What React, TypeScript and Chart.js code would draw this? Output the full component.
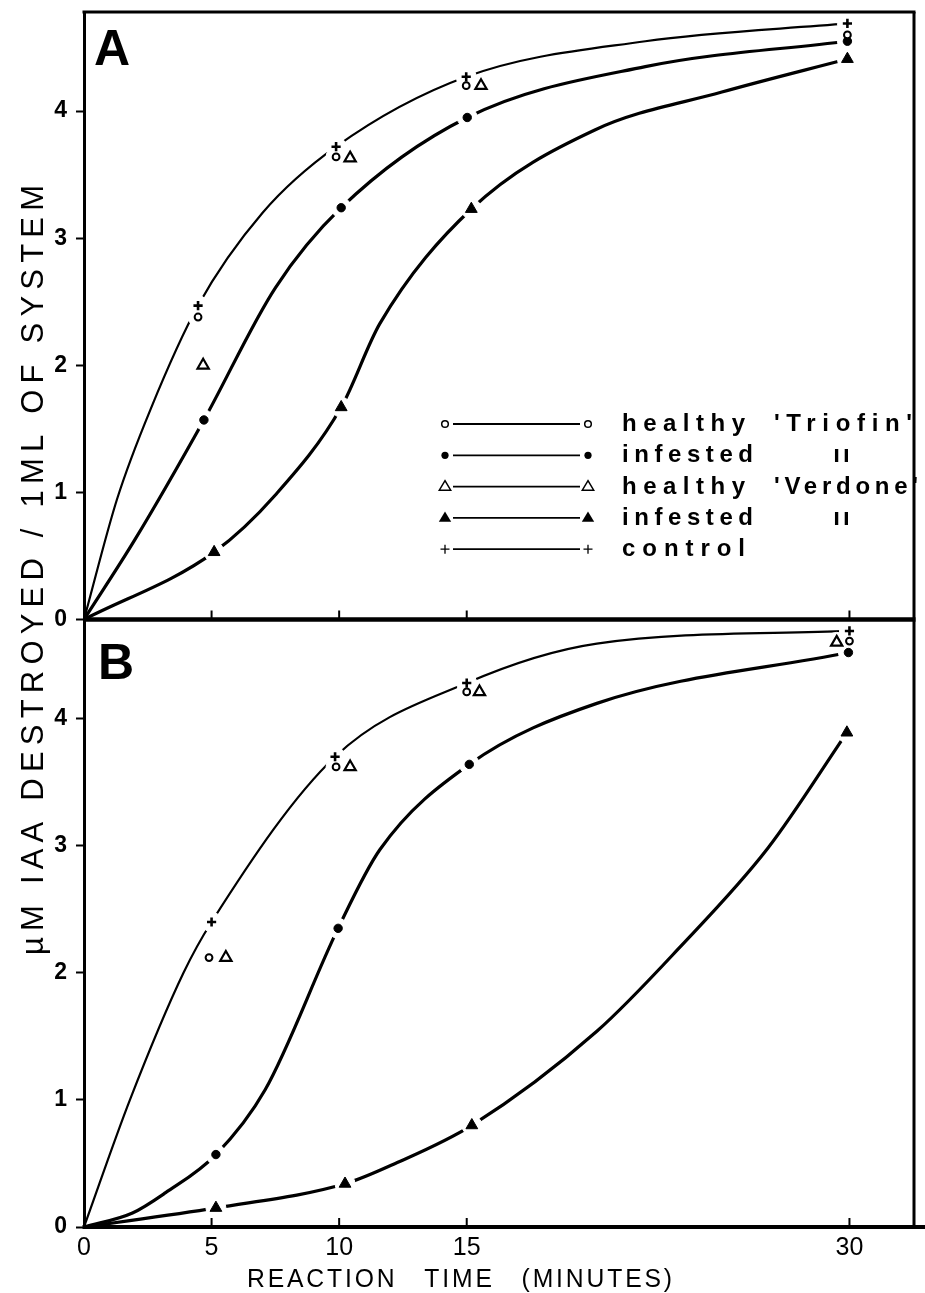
import React, { useEffect, useRef } from "react";
import { Chart, registerables } from "chart.js";

Chart.register(...registerables);

const W = 925;
const H = 1293;

const FONT = "'Liberation Sans', Arial, Helvetica, sans-serif";

// ---------- axes ----------
const X_TICKS = [0, 5, 10, 15, 30];
const Y_TICKS = [0, 1, 2, 3, 4];
const X_MAX = 32.53;
const Y_MAX = 4.78;

const X_TITLE = "REACTION TIME (MINUTES)";
const Y_TITLE = "µM IAA DESTROYED / 1ML OF SYSTEM";
const PANEL_LABELS = ["A", "B"];

// ---------- legend ----------
const LEGEND_MARKERS = ["openCircle", "dot", "openTri", "filledTri", "plus"];
const LEGEND_STATES = ["healthy", "infested", "healthy", "infested", "control"];
const LEGEND_VARIETIES = ["'Triofin'", "ıı", "'Verdone'", "ıı", ""];

// ---------- Panel A : plotted points (minutes, µM) ----------
const A_CONTROL_T = [4.47, 9.88, 14.98, 29.92];
const A_CONTROL_V = [2.47, 3.72, 4.27, 4.69];
const A_HEALTHY_TRIOFIN_T = [4.47, 9.88, 14.98, 29.92];
const A_HEALTHY_TRIOFIN_V = [2.38, 3.64, 4.2, 4.6];
const A_HEALTHY_VERDONE_T = [4.67, 10.43, 15.56];
const A_HEALTHY_VERDONE_V = [2.0, 3.63, 4.2];
const A_INFESTED_TRIOFIN_T = [4.7, 10.08, 15.02, 29.92];
const A_INFESTED_TRIOFIN_V = [1.57, 3.24, 3.95, 4.55];
const A_INFESTED_VERDONE_T = [5.1, 10.08, 15.18, 29.92];
const A_INFESTED_VERDONE_V = [0.53, 1.67, 3.23, 4.41];

// Panel A : hand-drawn curves
const A_UPPER_T = [0, 1.3, 2.6, 4.47, 7, 9.88, 14.98, 22, 29.92];
const A_UPPER_V = [0, 0.95, 1.65, 2.47, 3.2, 3.72, 4.27, 4.55, 4.69];
const A_MIDDLE_T = [0, 2, 4.7, 7.5, 10.08, 15.02, 22, 29.92];
const A_MIDDLE_V = [0, 0.63, 1.57, 2.61, 3.24, 3.95, 4.35, 4.55];
const A_LOWER_T = [0, 5.1, 7.5, 10.08, 11.6, 15.18, 20, 25, 29.92];
const A_LOWER_V = [0, 0.53, 0.98, 1.67, 2.33, 3.23, 3.85, 4.15, 4.41];

// ---------- Panel B : plotted points ----------
const B_CONTROL_T = [5.0, 9.84, 15.0, 30.0];
const B_CONTROL_V = [2.4, 3.7, 4.28, 4.69];
const B_HEALTHY_TRIOFIN_T = [4.9, 9.88, 15.0, 30.0];
const B_HEALTHY_TRIOFIN_V = [2.12, 3.62, 4.21, 4.61];
const B_HEALTHY_VERDONE_T = [5.56, 10.43, 15.5, 29.5];
const B_HEALTHY_VERDONE_V = [2.12, 3.62, 4.21, 4.6];
const B_INFESTED_TRIOFIN_T = [5.17, 9.96, 15.1, 29.96];
const B_INFESTED_TRIOFIN_V = [0.57, 2.35, 3.64, 4.52];
const B_INFESTED_VERDONE_T = [5.17, 10.23, 15.2, 29.9];
const B_INFESTED_VERDONE_V = [0.15, 0.34, 0.8, 3.89];

// Panel B : hand-drawn curves
const B_UPPER_T = [0, 1.8, 3.9, 5.0, 9.84, 15.0, 20.1, 30.0];
const B_UPPER_V = [0, 1.0, 2.0, 2.4, 3.7, 4.28, 4.59, 4.69];
const B_MIDDLE_T = [0, 1.9, 3.2, 5.17, 7.1, 9.96, 11.6, 15.1, 20.1, 29.96];
const B_MIDDLE_V = [0, 0.11, 0.27, 0.57, 1.08, 2.35, 2.97, 3.64, 4.12, 4.52];
const B_LOWER_T = [0, 5.17, 10.23, 12.2, 15.2, 20.1, 23.3, 26.8, 29.9];
const B_LOWER_V = [0, 0.15, 0.34, 0.5, 0.8, 1.54, 2.19, 2.98, 3.89];

// ---------- helpers ----------
type Pt = { x: number; y: number };
const series = (t: number[], v: number[]): Pt[] => t.map((x, i) => ({ x, y: v[i] }));

const MARKER_OPTS: Record<string, any> = {
  openCircle: { pointStyle: "circle", pointRadius: 3.4, pointBackgroundColor: "#fff", pointBorderColor: "#000", pointBorderWidth: 2 },
  dot: { pointStyle: "circle", pointRadius: 4.2, pointBackgroundColor: "#000", pointBorderColor: "#000", pointBorderWidth: 1 },
  openTri: { pointStyle: "triangle", pointRadius: 6.5, pointBackgroundColor: "#fff", pointBorderColor: "#000", pointBorderWidth: 2.2 },
  filledTri: { pointStyle: "triangle", pointRadius: 6.8, pointBackgroundColor: "#000", pointBorderColor: "#000", pointBorderWidth: 1 },
  plus: { pointStyle: "cross", pointRadius: 4.6, pointBackgroundColor: "#000", pointBorderColor: "#000", pointBorderWidth: 2.6 },
};

function curveDs(t: number[], v: number[], axis: string, width: number) {
  return {
    data: series(t, v),
    yAxisID: axis,
    borderColor: "#000",
    borderWidth: width,
    pointRadius: 0,
    pointHoverRadius: 0,
    cubicInterpolationMode: "monotone",
    fill: false,
    order: 3,
  };
}

function haloDs(data: Pt[], axis: string) {
  return {
    data,
    yAxisID: axis,
    showLine: false,
    pointStyle: "circle",
    pointRadius: 10,
    pointHoverRadius: 10,
    pointBackgroundColor: "#ffffff",
    pointBorderColor: "#ffffff",
    pointBorderWidth: 1,
    order: 2,
  };
}

function markerDs(t: number[], v: number[], axis: string, key: string) {
  const o = MARKER_OPTS[key];
  return {
    data: series(t, v),
    yAxisID: axis,
    showLine: false,
    ...o,
    pointHoverRadius: o.pointRadius,
    order: 1,
  };
}

function fitText(ctx: CanvasRenderingContext2D, text: string, x: number, y: number, width: number) {
  (ctx as any).letterSpacing = "0px";
  const w0 = ctx.measureText(text).width;
  const n = Array.from(text).length;
  const ls = n > 1 ? (width - w0) / (n - 1) : 0;
  (ctx as any).letterSpacing = `${ls}px`;
  ctx.textAlign = "left";
  ctx.fillText(text, x, y);
  (ctx as any).letterSpacing = "0px";
}

// draws the words of a title spread over a given length, each word with a fixed tracking
function spreadWords(ctx: CanvasRenderingContext2D, text: string, x: number, y: number, total: number, tracking: number, condense: number) {
  const words = text.split(" ");
  (ctx as any).letterSpacing = `${tracking}px`;
  const widths = words.map((w) => (ctx.measureText(w).width - tracking) * condense);
  const sum = widths.reduce((a, b) => a + b, 0);
  const gap = words.length > 1 ? (total - sum) / (words.length - 1) : 0;
  let cx = x;
  ctx.textAlign = "left";
  words.forEach((w, i) => {
    ctx.save();
    ctx.translate(cx, y);
    ctx.scale(condense, 1);
    ctx.fillText(w, 0, 0);
    ctx.restore();
    cx += widths[i] + gap;
  });
  (ctx as any).letterSpacing = "0px";
}

function triPath(ctx: CanvasRenderingContext2D, x: number, y: number, r: number) {
  ctx.beginPath();
  ctx.moveTo(x, y - r);
  ctx.lineTo(x + r * 0.95, y + r * 0.6);
  ctx.lineTo(x - r * 0.95, y + r * 0.6);
  ctx.closePath();
}

function drawMarker(ctx: CanvasRenderingContext2D, key: string, x: number, y: number) {
  ctx.save();
  ctx.strokeStyle = "#000";
  ctx.fillStyle = "#000";
  if (key === "openCircle") {
    ctx.lineWidth = 1.5;
    ctx.beginPath();
    ctx.arc(x, y, 3.3, 0, Math.PI * 2);
    ctx.fillStyle = "#fff";
    ctx.fill();
    ctx.stroke();
  } else if (key === "dot") {
    ctx.beginPath();
    ctx.arc(x, y, 3.6, 0, Math.PI * 2);
    ctx.fill();
  } else if (key === "openTri") {
    ctx.lineWidth = 1.5;
    triPath(ctx, x, y, 6);
    ctx.stroke();
  } else if (key === "filledTri") {
    triPath(ctx, x, y, 6.5);
    ctx.fill();
  } else if (key === "plus") {
    ctx.lineWidth = 1.3;
    ctx.beginPath();
    ctx.moveTo(x - 4.5, y);
    ctx.lineTo(x + 4.5, y);
    ctx.moveTo(x, y - 4.5);
    ctx.lineTo(x, y + 4.5);
    ctx.stroke();
  }
  ctx.restore();
}

const decorPlugin = {
  id: "decor",
  afterDraw(chart: any) {
    const { ctx, chartArea: ca } = chart;
    const xs = chart.scales.x;
    const yA = chart.scales.yA;
    const divY = yA.getPixelForValue(0);
    ctx.save();
    ctx.strokeStyle = "#000";
    ctx.fillStyle = "#000";
    const seg = (x1: number, y1: number, x2: number, y2: number, w: number) => {
      ctx.lineWidth = w;
      ctx.beginPath();
      ctx.moveTo(x1, y1);
      ctx.lineTo(x2, y2);
      ctx.stroke();
    };
    // frame
    seg(ca.left - 1.5, ca.top, ca.right + 1.5, ca.top, 3);
    seg(ca.right, ca.top, ca.right, ca.bottom, 3);
    seg(ca.left, divY, ca.right + 1.5, divY, 4.5);
    seg(ca.left - 1.5, ca.bottom, chart.width, ca.bottom, 4);
    // inward x ticks on both panel baselines
    for (const v of X_TICKS) {
      if (v === 0) continue;
      const px = xs.getPixelForValue(v);
      seg(px, divY, px, divY - 9, 2);
      seg(px, ca.bottom, px, ca.bottom - 9, 2);
    }

    // panel letters
    ctx.font = `bold 50px ${FONT}`;
    ctx.textAlign = "left";
    ctx.textBaseline = "alphabetic";
    ctx.fillText(PANEL_LABELS[0], ca.left + 10, ca.top + 53);
    ctx.fillText(PANEL_LABELS[1], ca.left + 14, divY + 59);

    // legend
    const rowTop = 424;
    const rowStep = 31.3;
    LEGEND_MARKERS.forEach((key, i) => {
      const ry = rowTop + i * rowStep;
      ctx.lineWidth = 1.8;
      ctx.beginPath();
      ctx.moveTo(453, ry);
      ctx.lineTo(580, ry);
      ctx.stroke();
      drawMarker(ctx, key, 445, ry);
      drawMarker(ctx, key, 588, ry);
      ctx.font = `bold 24px ${FONT}`;
      ctx.textBaseline = "alphabetic";
      const state = LEGEND_STATES[i];
      fitText(ctx, state, 622, ry + 7, state === "infested" ? 131 : 123);
      const variety = LEGEND_VARIETIES[i];
      if (variety === "ıı") {
        ctx.textAlign = "center";
        (ctx as any).letterSpacing = "3px";
        ctx.fillText(variety, 843, ry + 7);
        (ctx as any).letterSpacing = "0px";
      } else if (variety) {
        fitText(ctx, variety, 774, ry + 7, variety.includes("Verdone") ? 144 : 138);
      }
    });

    // x title
    ctx.font = `26px ${FONT}`;
    ctx.textBaseline = "alphabetic";
    spreadWords(ctx, X_TITLE, 247, 1287, 425, 3, 0.95);

    // y title (rotated), evenly tracked
    ctx.save();
    ctx.translate(43, 570);
    ctx.rotate(-Math.PI / 2);
    ctx.font = `31px ${FONT}`;
    fitText(ctx, Y_TITLE, -385, 0, 770);
    ctx.restore();

    ctx.restore();
  },
};

function yScale(stackWeight: number) {
  return {
    type: "linear",
    position: "left",
    stack: "panels",
    stackWeight,
    min: 0,
    max: Y_MAX,
    afterBuildTicks: (scale: any) => {
      scale.ticks = Y_TICKS.map((value) => ({ value }));
    },
    afterFit: (scale: any) => {
      scale.width = 84;
      scale.paddingTop = 0;
      scale.paddingBottom = 0;
    },
    border: { display: true, color: "#000", width: 3 },
    grid: {
      display: true,
      drawOnChartArea: false,
      drawTicks: true,
      tickLength: 8,
      tickWidth: 2,
      tickColor: "#000",
      color: "#000",
    },
    ticks: {
      color: "#000",
      padding: 9,
      font: { family: FONT, size: 23, weight: "bold" },
    },
  };
}

export default function App() {
  const ref = useRef<HTMLCanvasElement>(null);

  useEffect(() => {
    const canvas = ref.current;
    if (!canvas) return;

    const haloA = [
      ...series(A_CONTROL_T, A_CONTROL_V),
      ...series(A_HEALTHY_TRIOFIN_T, A_HEALTHY_TRIOFIN_V),
      ...series(A_HEALTHY_VERDONE_T, A_HEALTHY_VERDONE_V),
      ...series(A_INFESTED_TRIOFIN_T, A_INFESTED_TRIOFIN_V),
      ...series(A_INFESTED_VERDONE_T, A_INFESTED_VERDONE_V),
    ];
    const haloB = [
      ...series(B_CONTROL_T, B_CONTROL_V),
      ...series(B_HEALTHY_TRIOFIN_T, B_HEALTHY_TRIOFIN_V),
      ...series(B_HEALTHY_VERDONE_T, B_HEALTHY_VERDONE_V),
      ...series(B_INFESTED_TRIOFIN_T, B_INFESTED_TRIOFIN_V),
      ...series(B_INFESTED_VERDONE_T, B_INFESTED_VERDONE_V),
    ];

    const datasets: any[] = [
      curveDs(A_UPPER_T, A_UPPER_V, "yA", 2.2),
      curveDs(A_MIDDLE_T, A_MIDDLE_V, "yA", 3.2),
      curveDs(A_LOWER_T, A_LOWER_V, "yA", 3.2),
      curveDs(B_UPPER_T, B_UPPER_V, "yB", 2.2),
      curveDs(B_MIDDLE_T, B_MIDDLE_V, "yB", 3.2),
      curveDs(B_LOWER_T, B_LOWER_V, "yB", 3.2),
      haloDs(haloA, "yA"),
      haloDs(haloB, "yB"),
      markerDs(A_HEALTHY_TRIOFIN_T, A_HEALTHY_TRIOFIN_V, "yA", "openCircle"),
      markerDs(A_INFESTED_TRIOFIN_T, A_INFESTED_TRIOFIN_V, "yA", "dot"),
      markerDs(A_HEALTHY_VERDONE_T, A_HEALTHY_VERDONE_V, "yA", "openTri"),
      markerDs(A_INFESTED_VERDONE_T, A_INFESTED_VERDONE_V, "yA", "filledTri"),
      markerDs(A_CONTROL_T, A_CONTROL_V, "yA", "plus"),
      markerDs(B_HEALTHY_TRIOFIN_T, B_HEALTHY_TRIOFIN_V, "yB", "openCircle"),
      markerDs(B_INFESTED_TRIOFIN_T, B_INFESTED_TRIOFIN_V, "yB", "dot"),
      markerDs(B_HEALTHY_VERDONE_T, B_HEALTHY_VERDONE_V, "yB", "openTri"),
      markerDs(B_INFESTED_VERDONE_T, B_INFESTED_VERDONE_V, "yB", "filledTri"),
      markerDs(B_CONTROL_T, B_CONTROL_V, "yB", "plus"),
    ];

    const chart = new Chart(canvas, {
      type: "line",
      data: { datasets },
      options: {
        animation: false,
        responsive: false,
        devicePixelRatio: 1,
        events: [],
        layout: { padding: { left: 0, top: 12, right: 5, bottom: 0 } },
        plugins: {
          legend: { display: false },
          tooltip: { enabled: false },
          title: { display: false },
        },
        scales: {
          x: {
            type: "linear",
            min: 0,
            max: X_MAX,
            afterBuildTicks: (scale: any) => {
              scale.ticks = X_TICKS.map((value) => ({ value }));
            },
            afterFit: (scale: any) => {
              scale.height = 66;
              scale.paddingLeft = 0;
              scale.paddingRight = 0;
            },
            border: { display: false },
            grid: { display: false, drawTicks: false },
            ticks: {
              color: "#000",
              padding: 6,
              maxRotation: 0,
              autoSkip: false,
              font: { family: FONT, size: 25 },
            },
          },
          yB: yScale(1),
          yA: yScale(1),
        },
      } as any,
      plugins: [decorPlugin],
    });

    return () => chart.destroy();
  }, []);

  return (
    <div style={{ position: "absolute", left: 0, top: 0, width: W, height: H, background: "#fff" }}>
      <canvas ref={ref} width={W} height={H} style={{ display: "block", width: W, height: H }} />
    </div>
  );
}
